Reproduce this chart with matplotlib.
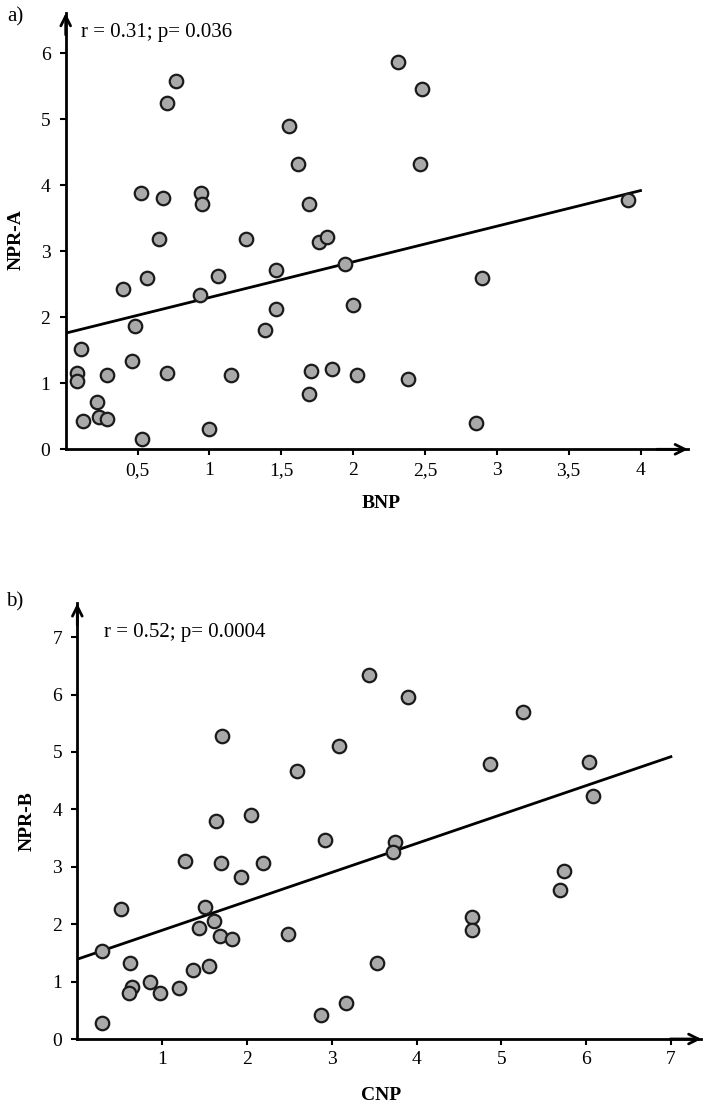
import matplotlib
matplotlib.use("Agg")
import matplotlib.pyplot as plt
import numpy as np

plt.rcParams['font.family'] = ['Liberation Serif', 'DejaVu Serif']

# ---------------- data ----------------
bnp = [0.765, 0.707, 1.554, 1.614, 0.526, 0.675, 0.939, 0.951, 1.693, 0.652,
       1.255, 1.763, 1.821, 2.315, 2.482, 2.468, 3.913, 0.401, 0.563, 0.937,
       1.062, 1.466, 1.466, 1.385, 1.944, 1.997, 0.480, 0.104, 0.459, 0.081,
       0.081, 0.287, 0.707, 1.150, 1.705, 1.853, 2.025, 1.693, 0.216, 0.229,
       0.290, 0.123, 0.529, 0.999, 2.899, 2.384, 2.855]
npra = [5.58, 5.24, 4.90, 4.33, 3.89, 3.81, 3.88, 3.71, 3.72, 3.19,
        3.19, 3.14, 3.22, 5.87, 5.46, 4.33, 3.77, 2.43, 2.59, 2.34,
        2.63, 2.72, 2.12, 1.81, 2.81, 2.19, 1.87, 1.52, 1.34, 1.15,
        1.03, 1.13, 1.15, 1.13, 1.19, 1.22, 1.13, 0.84, 0.71, 0.49,
        0.46, 0.43, 0.15, 0.31, 2.59, 1.06, 0.40]

cnp = [1.71, 2.59, 3.09, 1.63, 2.05, 3.44, 3.90, 5.26, 4.87, 6.03,
       6.08, 2.92, 1.27, 1.70, 2.19, 1.93, 0.52, 1.51, 1.61, 1.44,
       1.68, 1.83, 2.49, 0.29, 0.62, 1.55, 1.36, 0.86, 0.64, 0.61,
       0.98, 1.20, 0.29, 2.87, 3.17, 3.75, 3.72, 5.74, 5.69, 4.65,
       4.65, 3.53]
nprb = [5.28, 4.67, 5.11, 3.80, 3.91, 6.35, 5.95, 5.69, 4.79, 4.82,
        4.24, 3.47, 3.10, 3.06, 3.07, 2.82, 2.26, 2.30, 2.05, 1.93,
        1.80, 1.75, 1.83, 1.54, 1.32, 1.28, 1.21, 0.99, 0.91, 0.81,
        0.81, 0.88, 0.28, 0.41, 0.63, 3.44, 3.25, 2.93, 2.60, 2.13,
        1.90, 1.32]

# regression lines: (intercept, slope, x_end)
fit_a = (1.76, 0.54, 4.0)
fit_b = (1.39, 0.504, 7.0)

xticks_a = [0.5, 1, 1.5, 2, 2.5, 3, 3.5, 4]
xticklabels_a = ["0,5", "1", "1,5", "2", "2,5", "3", "3,5", "4"]
yticks_a = [0, 1, 2, 3, 4, 5, 6]
xticks_b = [1, 2, 3, 4, 5, 6, 7]
yticks_b = [0, 1, 2, 3, 4, 5, 6, 7]

stat_a = "r = 0.31; p= 0.036"
stat_b = "r = 0.52; p= 0.0004"

# ---------------- figure ----------------
W, H = 708, 1108
fig = plt.figure(figsize=(W / 100, H / 100), dpi=100)


def fx(x):
    return x / W


def fy(y):
    return 1 - y / H


def make_axes(x0, y0, xscale, yscale, xmax, ymax):
    w = xmax * xscale
    h = ymax * yscale
    ax = fig.add_axes([fx(x0), fy(y0), w / W, h / H])
    ax.set_xlim(0, xmax)
    ax.set_ylim(0, ymax)
    for s in ("top", "right"):
        ax.spines[s].set_visible(False)
    for s in ("left", "bottom"):
        ax.spines[s].set_linewidth(2.0)
    ax.tick_params(direction="out", length=4, width=1.5, labelsize=14,
                   color="black")
    ax.tick_params(axis="x", pad=5)
    ax.tick_params(axis="y", pad=7)
    arrow = dict(arrowstyle="->,head_length=0.7,head_width=0.35", lw=2.0,
                 color="black", shrinkA=0, shrinkB=0)
    ax.annotate("", xy=(1.0, 0), xytext=(0.95, 0), xycoords="axes fraction",
                arrowprops=arrow, annotation_clip=False)
    ax.annotate("", xy=(0, 1.0), xytext=(0, 0.95), xycoords="axes fraction",
                arrowprops=arrow, annotation_clip=False)
    return ax


marker_kw = dict(marker="o", linestyle="none", markersize=9.7,
                 markerfacecolor="#a9a9a9", markeredgecolor="#1a1a1a",
                 markeredgewidth=1.6, zorder=3, clip_on=False)

# ---- panel a ----
axa = make_axes(65.7, 449.3, 143.7, 66.0, 4.33, 6.61)
xs = np.array([0.0, fit_a[2]])
axa.plot(xs, fit_a[0] + fit_a[1] * xs, color="black", lw=2.0, zorder=2)
axa.plot(bnp, npra, **marker_kw)
axa.set_xticks(xticks_a)
axa.set_xticklabels(xticklabels_a)
axa.set_yticks(yticks_a)

fig.text(fx(81), fy(32), stat_a, fontsize=15, ha="left", va="center")
fig.text(fx(15), fy(17), "a)", fontsize=15, ha="center", va="center")
fig.text(fx(16), fy(240), "NPR-A", fontsize=14, fontweight="bold",
         rotation=90, ha="center", va="center")
fig.text(fx(381), fy(503), "BNP", fontsize=14, fontweight="bold",
         ha="center", va="center")

# ---- panel b ----
axb = make_axes(77.3, 1039.0, 84.8, 57.4, 7.36, 7.59)
xs = np.array([0.0, fit_b[2]])
axb.plot(xs, fit_b[0] + fit_b[1] * xs, color="black", lw=2.0, zorder=2)
axb.plot(cnp, nprb, **marker_kw)
axb.set_xticks(xticks_b)
axb.set_yticks(yticks_b)

fig.text(fx(104), fy(632), stat_b, fontsize=15, ha="left", va="center")
fig.text(fx(15), fy(602), "b)", fontsize=15, ha="center", va="center")
fig.text(fx(27), fy(821), "NPR-B", fontsize=14, fontweight="bold",
         rotation=90, ha="center", va="center")
fig.text(fx(381), fy(1095), "CNP", fontsize=14, fontweight="bold",
         ha="center", va="center")

fig.savefig("out.png", dpi=100)
